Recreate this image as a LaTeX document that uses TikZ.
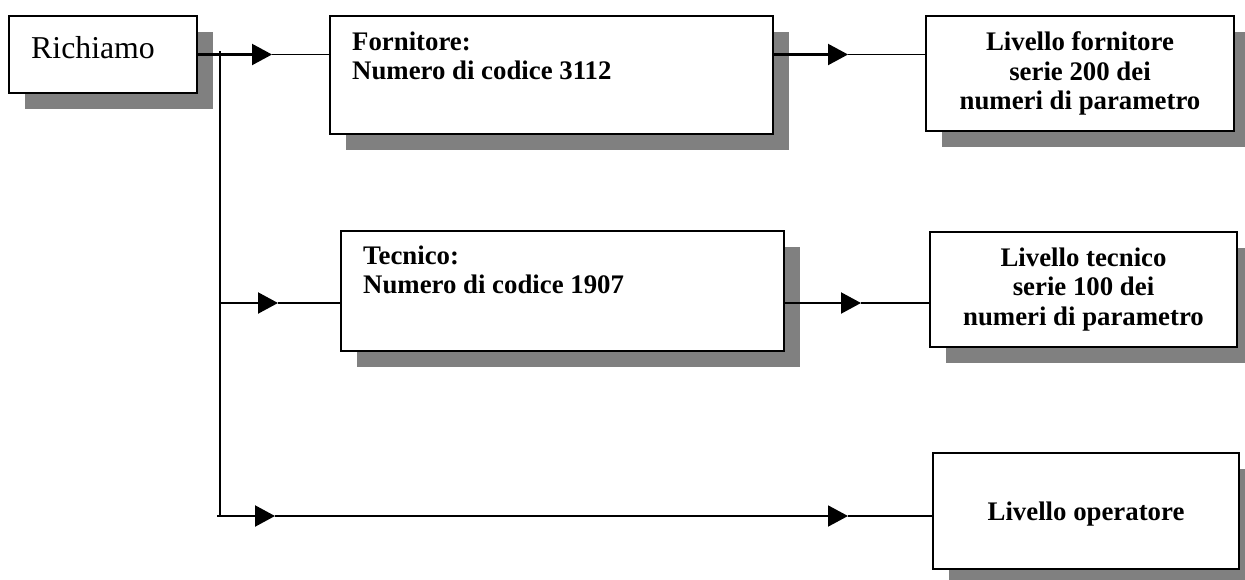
\documentclass[tikz,border=0pt]{standalone}
\usepackage{fontspec}
\setmainfont{Liberation Serif}
\usetikzlibrary{arrows.meta,shadows}
\definecolor{shadowgray}{HTML}{808080}
\tikzset{
  box/.style={rectangle, draw, line width=2.8pt, fill=white, inner sep=0pt,
    general shadow={fill=shadowgray, shadow xshift=16pt, shadow yshift=-16pt}},
  boldtxt/.style={font=\fontsize{26.8}{29.5}\selectfont\bfseries, inner sep=0pt},
  regtxt/.style={font=\fontsize{31.8}{36}\selectfont, inner sep=0pt},
  lead/.style={line width=2.2pt, -{Triangle[length=20pt,width=21pt]}},
  wire/.style={line width=1.7pt},
}
\begin{document}
\begin{tikzpicture}[x=1pt,y=-1pt]
\useasboundingbox (0,0) rectangle (1245,579);

% boxes
\node[box, minimum width=188pt, minimum height=77pt] (rich) at (103,54.5) {};
\node[regtxt, anchor=base west] (richT) at (31,58) {Richiamo};

\node[box, minimum width=443pt, minimum height=118pt] (forn) at (551.5,75) {};
\node[boldtxt, anchor=north west, align=left] (fornT) at (352,31.5) {Fornitore:\\Numero di codice 3112};

\node[box, minimum width=443pt, minimum height=120pt] (tec) at (562.5,291) {};
\node[boldtxt, anchor=north west, align=left] (tecT) at (363,245.5) {Tecnico:\\Numero di codice 1907};

\node[box, boldtxt, align=center, minimum width=308pt, minimum height=115pt] (lf) at (1080,73.5)
  {Livello fornitore\\serie 200 dei\\numeri di parametro};
\node[box, boldtxt, align=center, minimum width=307pt, minimum height=115pt] (lt) at (1083.5,289.5)
  {Livello tecnico\\serie 100 dei\\numeri di parametro};
\node[box, boldtxt, text depth=0pt, minimum width=306pt, minimum height=116pt] (op) at (1086,511)
  {Livello operatore};

% junction and arrow-tip coordinates
\coordinate (vtop) at (220,51);
\coordinate (vbot) at (220,517);
\coordinate (j2) at (220,303);
\coordinate (j3) at (217,516);
\coordinate (a1) at (272,54.5);
\coordinate (a2) at (278,303);
\coordinate (a3) at (275,516);
\coordinate (a4) at (848,516);
\coordinate (a5) at (848,54.5);
\coordinate (a6) at (861,303);

% connectors
\draw[wire] (vtop) -- (vbot);
\draw[lead] (rich.east) -- (a1);
\draw[wire] (a1) -- (a1 -| forn.west);
\draw[lead] (j2) -- (a2);
\draw[wire] (a2) -- (a2 -| tec.west);
\draw[lead] (j3) -- (a3);
\draw[lead, line width=1.9pt] (a3) -- (a4);
\draw[wire] (a4) -- (a4 -| op.west);
\draw[lead] (a5 -| forn.east) -- (a5);
\draw[wire] (a5) -- (a5 -| lf.west);
\draw[lead] (a6 -| tec.east) -- (a6);
\draw[wire] (a6) -- (a6 -| lt.west);
\end{tikzpicture}
\end{document}
